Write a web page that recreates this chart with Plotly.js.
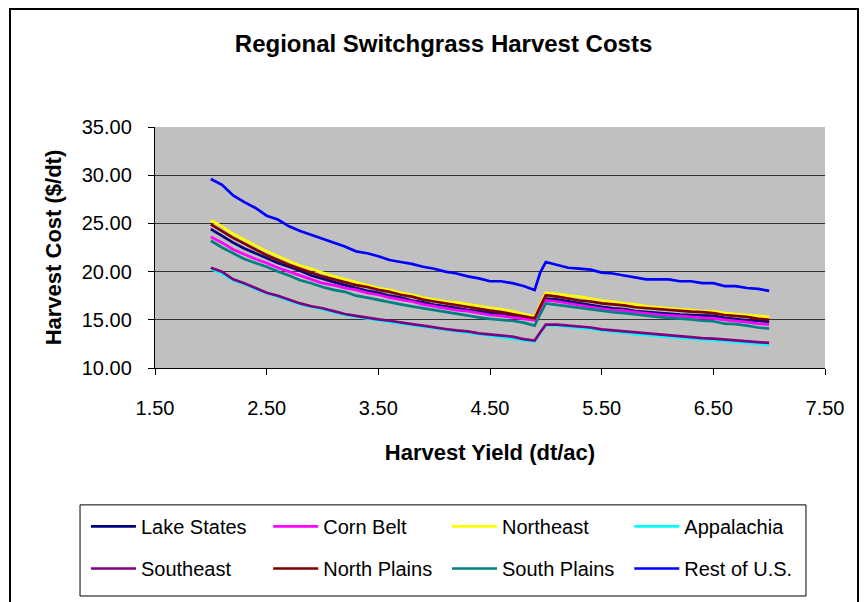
<!DOCTYPE html>
<html>
<head>
<meta charset="utf-8">
<script src="https://cdn.plot.ly/plotly-3.0.1.min.js"></script>
<style>
  html, body { margin: 0; padding: 0; background: #fff; }
  #wrap { position: relative; width: 868px; height: 602px; overflow: hidden; }
  #chart { width: 868px; height: 602px; }
  #frame { position: absolute; left: 9px; top: 8px; width: 846px; height: 640px; border: 2px solid #000; pointer-events: none; }
</style>
</head>
<body>
<div id="wrap">
  <div id="chart"></div>
  <div id="frame"></div>
</div>
<script>
// Harvest yield (dt/ac)
const yieldX = [2.0,2.1,2.2,2.3,2.4,2.5,2.6,2.7,2.8,2.9,3.0,3.1,3.2,3.3,3.4,3.5,3.6,3.7,3.8,3.9,
  4.0,4.1,4.2,4.3,4.4,4.5,4.6,4.7,4.8,4.9,4.95,5.0,5.1,5.2,5.3,5.4,5.5,5.6,5.7,5.8,5.9,
  6.0,6.1,6.2,6.3,6.4,6.5,6.6,6.7,6.8,6.9,7.0];

// Harvest cost ($/dt) by region
const lakeStates = [24.4,23.7,23.0,22.4,21.9,21.4,20.9,20.5,20.1,19.6,19.25,18.9,18.6,18.3,18.0,17.8,17.5,17.3,17.0,16.8,
  16.55,16.4,16.2,16.0,15.9,15.75,15.6,15.45,15.3,15.05,16.2,17.2,17.1,16.9,16.7,16.5,16.35,16.2,16.1,15.9,15.8,
  15.7,15.6,15.55,15.5,15.45,15.4,15.2,15.05,14.95,14.9,14.8];
const cornBelt = [23.6,23.0,22.3,21.8,21.3,20.9,20.4,20.0,19.6,19.2,18.8,18.6,18.3,18.1,17.8,17.6,17.3,17.1,16.9,16.6,
  16.4,16.2,16.0,15.9,15.7,15.5,15.4,15.25,15.1,14.95,16.0,17.0,16.9,16.7,16.5,16.3,16.15,16.0,15.95,15.8,15.65,
  15.55,15.45,15.4,15.3,15.2,15.15,15.0,14.9,14.75,14.6,14.5];
const northeast = [25.3,24.7,23.9,23.3,22.7,22.1,21.6,21.1,20.6,20.3,19.9,19.5,19.2,18.9,18.6,18.3,18.1,17.8,17.6,17.3,
  17.1,16.9,16.8,16.6,16.4,16.25,16.1,15.9,15.6,15.3,16.6,17.8,17.7,17.5,17.4,17.2,17.0,16.9,16.7,16.6,16.4,
  16.3,16.2,16.1,16.0,15.9,15.9,15.7,15.6,15.5,15.4,15.3];
const appalachia = [20.3,19.8,19.1,18.7,18.2,17.75,17.4,17.0,16.6,16.35,16.1,15.8,15.5,15.3,15.1,14.95,14.75,14.6,14.45,14.25,
  14.1,13.95,13.8,13.65,13.5,13.35,13.2,13.05,12.85,12.75,13.6,14.45,14.4,14.3,14.15,14.05,13.9,13.8,13.65,13.5,13.4,
  13.3,13.2,13.15,13.05,12.95,12.9,12.8,12.7,12.6,12.5,12.4];
const southeast = [20.4,20.0,19.2,18.8,18.3,17.8,17.5,17.1,16.7,16.4,16.2,15.9,15.6,15.4,15.2,15.05,14.9,14.7,14.55,14.4,
  14.2,14.05,13.9,13.8,13.6,13.5,13.4,13.25,13.0,12.85,13.7,14.5,14.5,14.4,14.3,14.2,14.0,13.9,13.8,13.7,13.55,
  13.45,13.4,13.3,13.2,13.1,13.05,12.95,12.9,12.8,12.65,12.6];
const northPlains = [24.9,24.2,23.5,22.9,22.3,21.7,21.2,20.7,20.3,19.9,19.5,19.2,18.9,18.6,18.4,18.1,17.9,17.6,17.4,17.1,
  16.9,16.7,16.5,16.3,16.1,15.95,15.8,15.6,15.4,15.15,16.4,17.55,17.4,17.2,17.0,16.9,16.7,16.6,16.5,16.3,16.2,
  16.1,16.0,15.9,15.85,15.8,15.7,15.5,15.4,15.3,15.1,15.0];
const southPlains = [23.2,22.5,21.9,21.3,20.9,20.5,20.0,19.6,19.1,18.8,18.4,18.1,17.9,17.5,17.3,17.05,16.8,16.6,16.4,16.2,
  16.0,15.8,15.6,15.4,15.25,15.1,15.0,14.9,14.7,14.4,15.6,16.7,16.55,16.4,16.2,16.05,15.9,15.8,15.7,15.55,15.4,
  15.3,15.2,15.15,15.05,14.9,14.85,14.6,14.55,14.4,14.2,14.1];
const restOfUS = [29.6,29.0,27.9,27.2,26.6,25.8,25.4,24.7,24.2,23.8,23.4,23.0,22.6,22.1,21.9,21.6,21.2,21.0,20.8,20.5,
  20.3,20.0,19.8,19.5,19.3,19.0,19.0,18.8,18.5,18.1,19.9,21.0,20.7,20.4,20.3,20.2,19.9,19.8,19.6,19.4,19.2,
  19.2,19.2,19.0,19.0,18.8,18.8,18.5,18.5,18.3,18.2,18.0];

const seriesNames = ["Lake States","Corn Belt","Northeast","Appalachia","Southeast","North Plains","South Plains","Rest of U.S."];
const seriesValues = [lakeStates, cornBelt, northeast, appalachia, southeast, northPlains, southPlains, restOfUS];
const seriesColors = ["#000080","#FF00FF","#FFFF00","#00FFFF","#800080","#800000","#008080","#0000FF"];

const xTicks = [1.5,2.5,3.5,4.5,5.5,6.5,7.5];
const yTicks = [10,15,20,25,30,35];

const yTitleText = "Harvest Cost ($/dt)";
const xTitleText = "Harvest Yield (dt/ac)";
const chartTitle = "Regional Switchgrass Harvest Costs";

const FONT = "Arial, 'Liberation Sans', sans-serif";

// Legend grid (Excel-style, 4 entries per row): container-relative positions
const legendColX = [0.099, 0.309, 0.515, 0.725];
const legendRowY = [0.158, 0.088];

const legendIds = seriesNames.map((_, i) => i === 0 ? "legend" : "legend" + (i + 1));

const traces = seriesNames.map((name, i) => ({
  type: "scatter",
  mode: "lines",
  name: name,
  x: yieldX,
  y: seriesValues[i],
  legend: legendIds[i],
  line: { color: seriesColors[i], width: 2.7 }
}));

const layout = {
  width: 868,
  height: 602,
  margin: { l: 155, r: 43, t: 127, b: 234, autoexpand: false },
  paper_bgcolor: "#ffffff",
  plot_bgcolor: "#C0C0C0",
  font: { family: FONT, color: "#000", size: 20 },
  title: {
    text: "<b>" + chartTitle + "</b>",
    font: { family: FONT, size: 24, color: "#000" },
    x: 0.511, xanchor: "center", xref: "container",
    y: 0.928, yanchor: "middle", yref: "container"
  },
  showlegend: true,
  shapes: [{
    type: "rect", xref: "paper", yref: "paper",
    x0: -0.1119, x1: 0.9716, y0: -0.946, y1: -0.568,
    line: { color: "#000", width: 1 }, fillcolor: "rgba(0,0,0,0)", layer: "above"
  }],
  annotations: [{
    text: "<b>" + yTitleText + "</b>",
    xref: "paper", yref: "paper",
    x: -0.151, y: 0.5, xanchor: "center", yanchor: "middle",
    textangle: -90, showarrow: false,
    font: { family: FONT, size: 22, color: "#000" }
  }],
  xaxis: {
    range: [1.5, 7.5],
    tickvals: xTicks,
    tickformat: ".2f",
    showgrid: false,
    zeroline: false,
    showline: true, linecolor: "#000", linewidth: 1.2,
    ticks: "outside", ticklen: 6, tickcolor: "#000", tickwidth: 1,
    ticklabelstandoff: 16,
    tickfont: { family: FONT, size: 20, color: "#000" },
    title: { text: "<b>" + xTitleText + "</b>", font: { family: FONT, size: 22, color: "#000" }, standoff: 26 },
    fixedrange: true
  },
  yaxis: {
    range: [10, 35],
    tickvals: yTicks,
    tickformat: ".2f",
    showgrid: true, gridcolor: "#333", gridwidth: 1.3,
    zeroline: false,
    showline: true, linecolor: "#000", linewidth: 1.2,
    ticks: "outside", ticklen: 6, tickcolor: "#000", tickwidth: 1,
    ticklabelstandoff: 12,
    tickfont: { family: FONT, size: 20, color: "#000" },
    fixedrange: true
  }
};

legendIds.forEach((id, i) => {
  layout[id] = {
    orientation: "v",
    xref: "container", yref: "container",
    x: legendColX[i % 4], xanchor: "left",
    y: legendRowY[Math.floor(i / 4)], yanchor: "top",
    borderwidth: 0,
    bgcolor: "rgba(0,0,0,0)",
    itemwidth: 45,
    font: { family: FONT, size: 20, color: "#000" }
  };
});

Plotly.newPlot("chart", traces, layout, { displayModeBar: false, staticPlot: true });
</script>
</body>
</html>
